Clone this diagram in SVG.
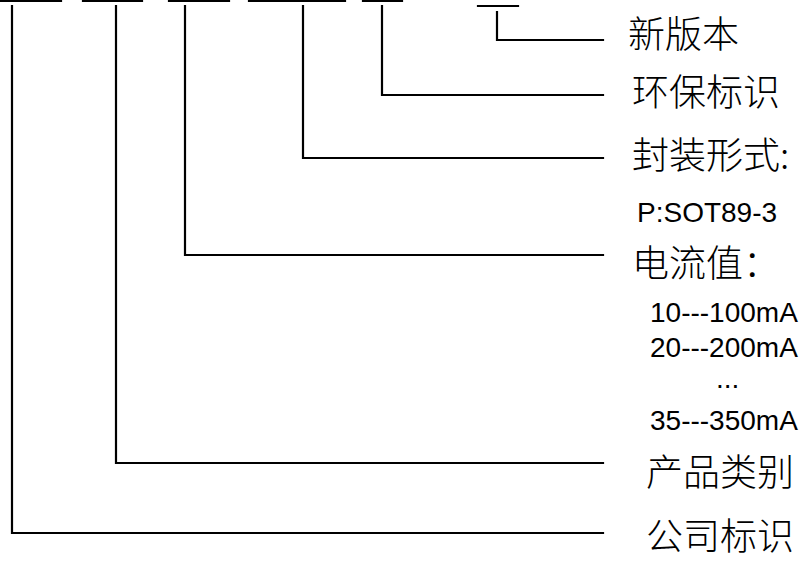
<svg xmlns="http://www.w3.org/2000/svg" width="810" height="562" viewBox="0 0 810 562">
<style>
.ln{fill:none;stroke:#000;stroke-width:2.2;stroke-linecap:square}
.cn{font-family:"Noto Sans CJK SC","Noto Sans CJK JP",sans-serif;font-size:37px;font-weight:300;fill:#000}
.en{font-family:"Liberation Sans",Arial,sans-serif;font-size:28px;fill:#000}
</style>
<rect width="810" height="562" fill="#fff"/>
<g id="connectors">
<path class="ln" d="M0 1H61M83 1H142M169 1H229M249 1H345M363 1H402M478 6H518"/>
<path class="ln" d="M497 12V40H603"/>
<path class="ln" d="M382 6V95H603"/>
<path class="ln" d="M303 6V158H603"/>
<path class="ln" d="M185 6V255H603"/>
<path class="ln" d="M116 6V463H603"/>
<path class="ln" d="M12 6V533H603"/>
</g>
<g id="node-new-version"><text class="cn" x="628" y="48">新版本</text></g>
<g id="node-eco"><text class="cn" x="632" y="106">环保标识</text></g>
<g id="node-package"><text class="cn" x="632" y="169">封装形式:</text><text class="en" x="637" y="222" font-size="25">P:SOT89-3</text></g>
<g id="node-current"><text class="cn" x="632" y="277">电流值：</text>
<text class="en" x="650" y="322">10---100mA</text>
<text class="en" x="650" y="357">20---200mA</text>
<text class="en" x="716" y="388">...</text>
<text class="en" x="650" y="430">35---350mA</text></g>
<g id="node-category"><text class="cn" x="646" y="486">产品类别</text></g>
<g id="node-company"><text class="cn" x="646" y="550">公司标识</text></g>
</svg>
